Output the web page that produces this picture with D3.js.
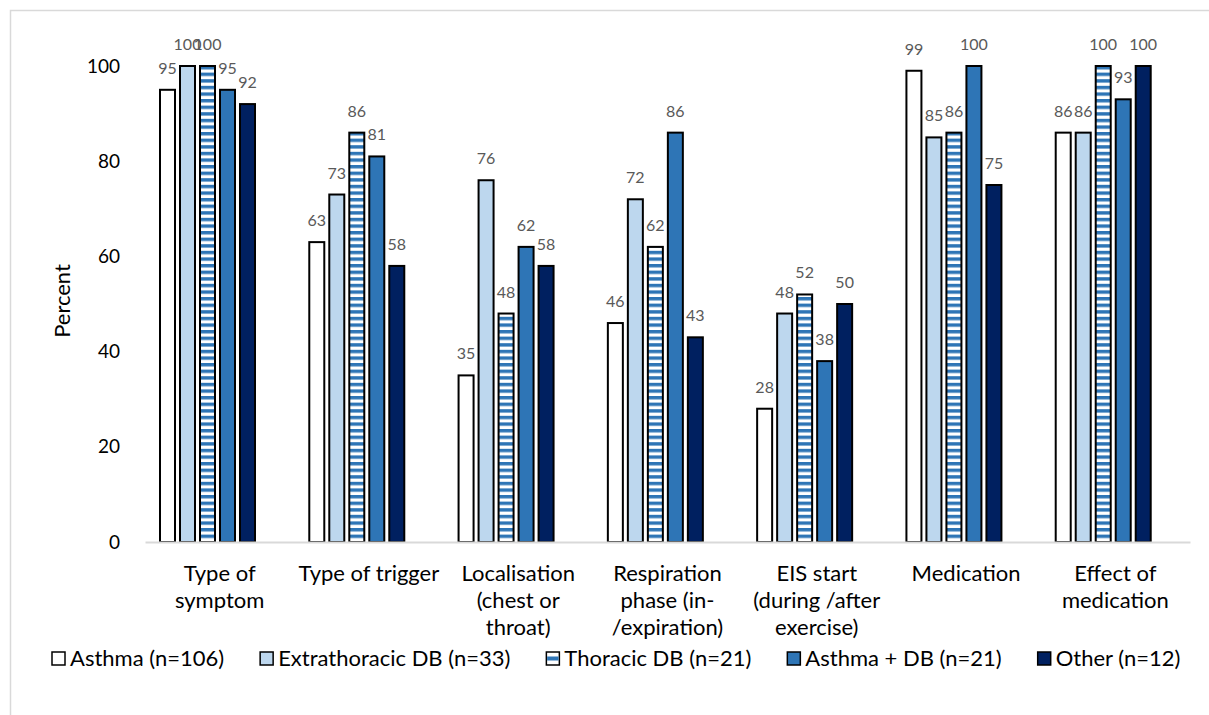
<!DOCTYPE html>
<html>
<head>
<meta charset="utf-8">
<script src="https://cdn.jsdelivr.net/npm/d3@7"></script>
<style>
  body { margin: 0; background: #fff; }
  svg { display: block; font-family: Lato, "Open Sans", sans-serif; }
</style>
</head>
<body>
<svg id="drawing_region"></svg>
<script>
// categories, one label line per entry
const categories = [
    ["Type of", "symptom"],
    ["Type of trigger"],
    ["Localisation", "(chest or", "throat)"],
    ["Respiration", "phase (in-", "/expiration)"],
    ["EIS start", "(during /after", "exercise)"],
    ["Medication"],
    ["Effect of", "medication"]
];
const seriesNames = ["Asthma (n=106)", "Extrathoracic DB (n=33)", "Thoracic DB (n=21)", "Asthma + DB (n=21)", "Other (n=12)"];
const asthma        = [95, 63, 35, 46, 28, 99, 86];
const extrathoracic = [100, 73, 76, 72, 48, 85, 86];
const thoracic      = [100, 86, 48, 62, 52, 86, 100];
const asthmaDB      = [95, 81, 62, 86, 38, 100, 93];
const other         = [92, 58, 58, 43, 50, 75, 100];
const yTicks = [0, 20, 40, 60, 80, 100];

const seriesValues = [asthma, extrathoracic, thoracic, asthmaDB, other];
const fills = ["#ffffff", "#bdd7ee", "url(#stripes)", "#2e75b6", "#002060"];

const config = {
    width: 1209,
    height: 715,
    margin: {top: 66, right: 14, bottom: 173, left: 145}
};

const svg = d3.select('#drawing_region')
    .attr('width', config.width)
    .attr('height', config.height);

// horizontal stripe pattern for thoracic DB
const pattern = svg.append('defs').append('pattern')
    .attr('id', 'stripes')
    .attr('patternUnits', 'userSpaceOnUse')
    .attr('width', 8)
    .attr('height', 6.6);
pattern.append('rect').attr('width', 8).attr('height', 6.6).attr('fill', '#ffffff');
pattern.append('rect').attr('width', 8).attr('height', 3.4).attr('fill', '#2e75b6');

// outer chart border (runs off the right / bottom edge)
svg.append('rect')
    .attr('x', 10.5).attr('y', 10.5)
    .attr('width', 1300).attr('height', 708)
    .attr('fill', 'none')
    .attr('stroke', '#d9d9d9')
    .attr('stroke-width', 1.5);

const inner_width = config.width - config.margin.left - config.margin.right - 5;
const inner_height = config.height - config.margin.top - config.margin.bottom;

const chart = svg.append('g')
    .attr('transform', `translate(${config.margin.left}, ${config.margin.top})`);

const xscale = d3.scaleBand()
    .domain(d3.range(categories.length))
    .range([0, inner_width]);

const x1 = d3.scaleBand()
    .domain(d3.range(seriesNames.length))
    .range([15, 110])
    .paddingInner(0.25);

const yscale = d3.scaleLinear()
    .domain([0, 100])
    .range([inner_height, 0]);

// y tick labels only (no axis line, no gridlines)
const yaxis = d3.axisLeft(yscale)
    .tickValues(yTicks)
    .tickSize(0)
    .tickPadding(25);

chart.append('g')
    .call(yaxis)
    .call(g => g.select('.domain').remove())
    .call(g => g.selectAll('text')
        .attr('font-family', 'Lato, sans-serif')
        .attr('font-size', '19px')
        .attr('fill', '#000'));

// bars
seriesValues.forEach((vals, s) => {
    chart.append('g')
        .selectAll('rect')
        .data(vals)
        .enter()
        .append('rect')
        .attr('x', (d, i) => xscale(i) + x1(s))
        .attr('y', d => yscale(d))
        .attr('width', x1.bandwidth())
        .attr('height', d => inner_height - yscale(d))
        .attr('fill', fills[s])
        .attr('stroke', '#000')
        .attr('stroke-width', 2);

    chart.append('g')
        .selectAll('text')
        .data(vals)
        .enter()
        .append('text')
        .attr('x', (d, i) => xscale(i) + x1(s) + x1.bandwidth() / 2)
        .attr('y', d => yscale(d) - 16)
        .attr('text-anchor', 'middle')
        .attr('font-size', '16px')
        .attr('fill', '#595959')
        .text(d => d);
});

// x axis line
const xaxis = d3.axisBottom(xscale)
    .tickSize(0)
    .tickFormat('');

chart.append('g')
    .attr('transform', `translate(0, ${inner_height})`)
    .call(xaxis)
    .call(g => g.select('.domain')
        .attr('stroke', '#d9d9d9')
        .attr('stroke-width', 2));

// category labels
const catLabels = chart.append('g')
    .selectAll('text')
    .data(categories)
    .enter()
    .append('text')
    .attr('text-anchor', 'middle')
    .attr('font-size', '22px')
    .attr('fill', '#000');

catLabels.selectAll('tspan')
    .data((d, i) => d.map(line => ({line: line, i: i})))
    .enter()
    .append('tspan')
    .attr('x', d => xscale(d.i) + xscale.bandwidth() / 2)
    .attr('y', (d, j) => inner_height + 39 + j * 27)
    .text(d => d.line);

// y title
svg.append('text')
    .attr('transform', 'rotate(-90)')
    .attr('x', -301)
    .attr('y', 70)
    .attr('text-anchor', 'middle')
    .attr('font-size', '22px')
    .attr('fill', '#000')
    .text('Percent');

// legend
const legend = svg.append('g');
let lx = 52;
seriesNames.forEach((name, s) => {
    legend.append('rect')
        .attr('x', lx).attr('y', 652)
        .attr('width', 13).attr('height', 13)
        .attr('fill', s === 2 ? '#ffffff' : fills[s])
        .attr('stroke', '#000')
        .attr('stroke-width', 1.5);
    if (s === 2) {
        legend.append('rect')
            .attr('x', lx + 0.75).attr('y', 656.5)
            .attr('width', 11.5).attr('height', 4)
            .attr('fill', '#2e75b6');
    }
    const t = legend.append('text')
        .attr('x', lx + 18)
        .attr('y', 666)
        .attr('font-size', '22px')
        .attr('fill', '#000')
        .text(name);
    lx += 18 + t.node().getComputedTextLength() + 36;
});
</script>
</body>
</html>
